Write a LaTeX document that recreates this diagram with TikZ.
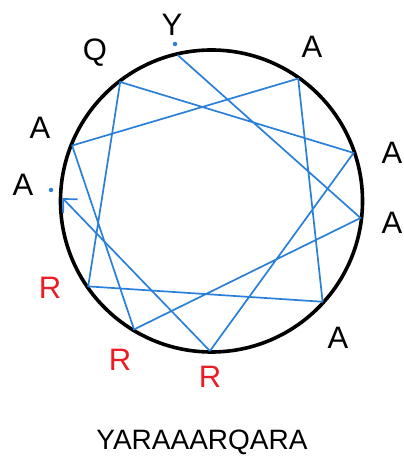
\documentclass[tikz,border=0pt]{standalone}
\usepackage{fontspec}
\setmainfont{Liberation Sans}
\usetikzlibrary{calc,arrows.meta}
\definecolor{chordblue}{RGB}{42,128,216}
\definecolor{labred}{RGB}{236,28,36}
\tikzset{
  lab/.style={font=\fontsize{31}{31}\selectfont, text=black, inner sep=0pt},
  redlab/.style={lab, text=labred},
  chord/.style={draw=chordblue, line width=1.7pt, line join=round},
  marker/.style={fill=chordblue, circle, inner sep=0pt, minimum size=4.5pt},
  title/.style={font=\fontsize{28}{28}\selectfont, inner sep=0pt}
}
\begin{document}
\begin{tikzpicture}[x=1pt,y=1pt]
\useasboundingbox (0,0) rectangle (404,463);
\coordinate (c) at (211.5,262);
% points on the circle
\coordinate (pY) at ($(c)+(103.1:150)$);
\coordinate (pA1) at ($(c)+(-6.5:150)$);
\coordinate (pR1) at ($(c)+(-121.1:150)$);
\coordinate (pA2) at ($(c)+(158.3:150)$);
\coordinate (pA3) at ($(c)+(54.7:150)$);
\coordinate (pA4) at ($(c)+(-42.2:150)$);
\coordinate (pR2) at ($(c)+(-145.3:150)$);
\coordinate (pQ) at ($(c)+(127.5:150)$);
\coordinate (pA5) at ($(c)+(18.7:150)$);
\coordinate (pR3) at ($(c)+(-90.6:150)$);
\coordinate (pA6) at ($(c)+(178.9:149)$);
% circle
\draw[line width=3.6pt] (c) circle (151);
% chords
\draw[chord] (pY) -- (pA1) -- (pR1) -- (pA2) -- (pA3) -- (pA4) -- (pR2) -- (pQ) -- (pA5) -- (pR3);
\draw[chord, -{Straight Barb[length=10pt,width=20pt,line width=1.7pt]}] (pR3) -- (pA6);
% markers
\node[marker] (dY) at (175,419) {};
\node[marker] (dA) at (51,273) {};
% labels
\node[lab] (lY) at (172,438) {Y};
\node[lab] (lQ) at (95,410) {Q};
\node[lab] (lA3) at (312,416) {A};
\node[lab] (lA5) at (392,310) {A};
\node[lab] (lA1) at (392,240) {A};
\node[lab] (lA4) at (338,125) {A};
\node[redlab] (lR3) at (210,86) {R};
\node[redlab] (lR1) at (120,103) {R};
\node[redlab] (lR2) at (50,175) {R};
\node[lab] (lA6) at (23,278) {A};
\node[lab] (lA2) at (40,335) {A};
\node[title] (t) at (202,21) {YARAAARQARA};
\end{tikzpicture}
\end{document}
